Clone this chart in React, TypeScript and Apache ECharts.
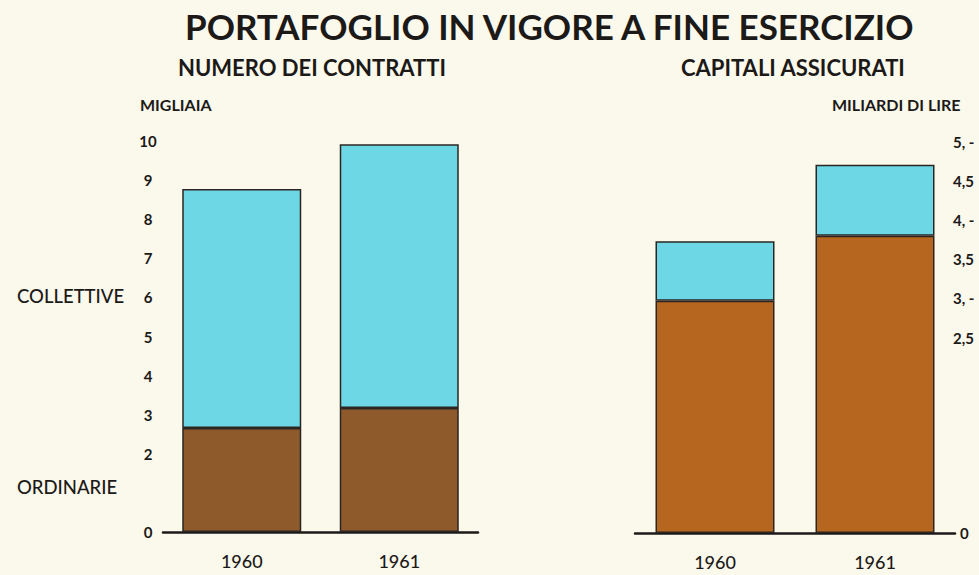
import React, { useEffect, useRef } from "react";
import * as echarts from "echarts";

const years = ["1960", "1961"];
// Numero dei contratti (migliaia)
const contrattiOrdinarie = [2.66, 3.17];
const contrattiCollettive = [6.11, 6.75];
// Capitali assicurati (miliardi di lire)
const capitaliOrdinarie = [2.97, 3.8];
const capitaliCollettive = [0.76, 0.91];

const leftTickLabels: Record<string, string> = {
  "0": "0", "2": "2", "3": "3", "4": "4", "5": "5", "6": "6", "7": "7", "8": "8", "9": "9", "10": "10",
};
const rightTickLabels: Record<string, string> = {
  "0": "0", "2.5": "2,5", "3": "3, -", "3.5": "3,5", "4": "4, -", "4.5": "4,5", "5": "5, -",
};

const FONT = "Lato, 'Noto Sans', sans-serif";
const INK = "#1c1a18";
const CYAN = "#6ed7e6";
const BROWN_L = "#8e5a2c";
const BROWN_R = "#b7661f";

export default function App() {
  const ref = useRef<HTMLDivElement>(null);
  useEffect(() => {
    if (!ref.current) return;
    const chart = echarts.init(ref.current, undefined, { renderer: "svg" });
    const itemBorder = { borderColor: "#2b2622", borderWidth: 1.5 };
    chart.setOption({
      animation: false,
      backgroundColor: "#fbf8ec",
      textStyle: { fontFamily: FONT, color: INK },
      title: [
        { text: "PORTAFOGLIO IN VIGORE A FINE ESERCIZIO", left: 180, top: 3, textStyle: { fontSize: 35, fontWeight: "bold", color: INK, fontFamily: FONT } },
        { text: "NUMERO DEI CONTRATTI", left: 173, top: 51, textStyle: { fontSize: 22, fontWeight: "bold", color: INK, fontFamily: FONT } },
        { text: "CAPITALI ASSICURATI", left: 676, top: 51, textStyle: { fontSize: 22, fontWeight: "bold", color: INK, fontFamily: FONT } },
        { text: "MIGLIAIA", left: 135, top: 91, textStyle: { fontSize: 16, fontWeight: "bold", color: INK, fontFamily: FONT } },
        { text: "MILIARDI DI LIRE", left: 827, top: 91, textStyle: { fontSize: 16, fontWeight: "bold", color: INK, fontFamily: FONT } },
        { text: "COLLETTIVE", left: 12, top: 281, textStyle: { fontSize: 18.5, fontWeight: 500, color: INK, fontFamily: FONT } },
        { text: "ORDINARIE", left: 12, top: 472, textStyle: { fontSize: 18.5, fontWeight: 500, color: INK, fontFamily: FONT } },
      ],
      grid: [
        { left: 163, top: 141, width: 315, height: 391 },
        { left: 635, top: 142, width: 320, height: 391 },
      ],
      xAxis: [
        {
          type: "category", data: years, gridIndex: 0,
          axisLine: { lineStyle: { color: INK, width: 2.5 } }, axisTick: { show: false },
          axisLabel: { color: INK, fontSize: 18, fontWeight: 500, margin: 20, fontFamily: FONT },
        },
        {
          type: "category", data: years, gridIndex: 1,
          axisLine: { lineStyle: { color: INK, width: 2.5 } }, axisTick: { show: false },
          axisLabel: { color: INK, fontSize: 18, fontWeight: 500, margin: 20, fontFamily: FONT },
        },
      ],
      yAxis: [
        {
          type: "value", gridIndex: 0, min: 0, max: 10, interval: 1,
          axisLine: { show: false }, axisTick: { show: false }, splitLine: { show: false },
          axisLabel: {
            color: INK, fontSize: 15, fontWeight: "bold", margin: 15, align: "center", fontFamily: FONT,
            formatter: (v: number) => leftTickLabels[String(v)] ?? "",
          },
        },
        {
          type: "value", gridIndex: 1, position: "right", min: 0, max: 5, interval: 0.5,
          axisLine: { show: false }, axisTick: { show: false }, splitLine: { show: false },
          axisLabel: {
            color: INK, fontSize: 15, fontWeight: "bold", margin: -2, align: "left", fontFamily: FONT,
            formatter: (v: number) => (v === 0 ? "{z|0}" : rightTickLabels[String(v)] ?? ""),
            rich: { z: { fontSize: 15, fontWeight: "bold", color: INK, fontFamily: FONT, padding: [0, 0, 0, 7] } },
          },
        },
      ],
      series: [
        { type: "bar", name: "Ordinarie", xAxisIndex: 0, yAxisIndex: 0, stack: "l", barWidth: 119, data: contrattiOrdinarie, itemStyle: { color: BROWN_L, ...itemBorder } },
        { type: "bar", name: "Collettive", xAxisIndex: 0, yAxisIndex: 0, stack: "l", barWidth: 119, data: contrattiCollettive, itemStyle: { color: CYAN, ...itemBorder } },
        { type: "bar", name: "Ordinarie", xAxisIndex: 1, yAxisIndex: 1, stack: "r", barWidth: 119, data: capitaliOrdinarie, itemStyle: { color: BROWN_R, ...itemBorder } },
        { type: "bar", name: "Collettive", xAxisIndex: 1, yAxisIndex: 1, stack: "r", barWidth: 119, data: capitaliCollettive, itemStyle: { color: CYAN, ...itemBorder } },
      ],
    });
    return () => chart.dispose();
  }, []);
  return <div ref={ref} style={{ position: "fixed", left: 0, top: 0, width: 979, height: 575 }} />;
}
